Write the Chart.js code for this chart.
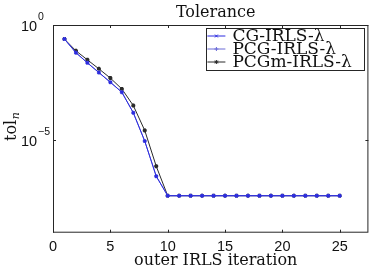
<!DOCTYPE html>
<html>
<head>
<meta charset="utf-8">
<script src="https://cdn.jsdelivr.net/npm/chart.js@4/dist/chart.umd.min.js"></script>
<style>
  html, body { margin: 0; padding: 0; background: #fff; }
  canvas { display: block; }
</style>
</head>
<body>
<canvas id="tolChart" width="374" height="267"></canvas>
<script>
// outer IRLS iteration number
const iterations = [1, 2, 3, 4, 5, 6, 7, 8, 9, 10, 11, 12, 13, 14, 15, 16, 17, 18, 19, 20, 21, 22, 23, 24, 25];
// tolerance per iteration
const cgTol = [0.245, 0.0631, 0.0229, 0.0087, 0.00331, 0.00123, 1.58e-4, 9.3e-6, 2.8e-7, 4.0e-8,
  4.0e-8, 4.0e-8, 4.0e-8, 4.0e-8, 4.0e-8, 4.0e-8, 4.0e-8, 4.0e-8, 4.0e-8, 4.0e-8, 4.0e-8, 4.0e-8, 4.0e-8, 4.0e-8, 4.0e-8];
const pcgTol = [0.245, 0.0631, 0.0229, 0.0087, 0.00331, 0.00123, 1.58e-4, 9.3e-6, 2.8e-7, 4.0e-8,
  4.0e-8, 4.0e-8, 4.0e-8, 4.0e-8, 4.0e-8, 4.0e-8, 4.0e-8, 4.0e-8, 4.0e-8, 4.0e-8, 4.0e-8, 4.0e-8, 4.0e-8, 4.0e-8, 4.0e-8];
const pcgmTol = [0.245, 0.0759, 0.0309, 0.0126, 0.00501, 0.0017, 3.24e-4, 2.69e-5, 7.6e-7, 4.0e-8,
  4.0e-8, 4.0e-8, 4.0e-8, 4.0e-8, 4.0e-8, 4.0e-8, 4.0e-8, 4.0e-8, 4.0e-8, 4.0e-8, 4.0e-8, 4.0e-8, 4.0e-8, 4.0e-8, 4.0e-8];
const seriesNames = ['CG-IRLS-λ', 'PCG-IRLS-λ', 'PCGm-IRLS-λ'];
const xTicks = [0, 5, 10, 15, 20, 25];
const yTicks = [1e-5, 1];
const titleText = 'Tolerance';
const xTitle = 'outer IRLS iteration';

const colors = ['#2b2be0', '#6a6ad6', '#2a2a2a'];
const markers = ['crossRot', 'cross', 'star'];
const axisColor = '#262626';
const textColor = '#111';
const sans = (px) => `${px}px Liberation Sans, Arial, sans-serif`;
const serif = (px, it) => `${it ? 'italic ' : ''}${px}px DejaVu Serif, serif`;

const mkSet = (i, data) => ({
  label: seriesNames[i],
  data: data.map((v, k) => ({ x: iterations[k], y: v })),
  borderColor: colors[i],
  backgroundColor: colors[i],
  borderWidth: 1,
  pointStyle: markers[i],
  pointRadius: 2,
  pointBorderWidth: 1.6,
  tension: 0
});

// matlab look: box, inward ticks, labels, legend
const matlabAxes = {
  id: 'matlabAxes',
  afterDraw(chart) {
    const { ctx, chartArea: a, scales: { x, y } } = chart;
    const cx = (a.left + a.right) / 2;
    ctx.save();
    ctx.strokeStyle = axisColor;
    ctx.lineWidth = 1;
    ctx.strokeRect(a.left + 0.5, a.top + 0.5, a.right - a.left - 1, a.bottom - a.top - 1);

    ctx.beginPath();
    xTicks.forEach(v => {
      const px = Math.round(x.getPixelForValue(v)) + 0.5;
      ctx.moveTo(px, a.bottom); ctx.lineTo(px, a.bottom - 3);
      ctx.moveTo(px, a.top); ctx.lineTo(px, a.top + 3);
    });
    yTicks.forEach(v => {
      const py = Math.round(y.getPixelForValue(v)) + 0.5;
      ctx.moveTo(a.left, py); ctx.lineTo(a.left + 3, py);
      ctx.moveTo(a.right, py); ctx.lineTo(a.right - 3, py);
    });
    ctx.stroke();

    ctx.fillStyle = textColor;
    ctx.textBaseline = 'alphabetic';
    ctx.textAlign = 'center';

    // 10^k labels
    yTicks.forEach(v => {
      const py = Math.round(y.getPixelForValue(v));
      const lx = a.left - 32;
      ctx.font = sans(14.5);
      const w = ctx.measureText('10').width;
      ctx.fillText('10', Math.round(lx + w / 2), py + 6);
      const ex = String(Math.round(Math.log10(v))).replace('-', '\u2212');
      ctx.font = sans(10.5);
      const we = ctx.measureText(ex).width;
      ctx.fillText(ex, Math.round(lx + w + 1 + we / 2), py - 5);
    });

    // title
    ctx.font = serif(16);
    ctx.fillText(titleText, cx + 5, a.top - 8.5);

    // x tick labels + x title
    ctx.font = sans(14.5);
    xTicks.forEach(v => ctx.fillText(String(v), x.getPixelForValue(v), a.bottom + 18));
    ctx.font = serif(16);
    ctx.fillText(xTitle, cx + 5, a.bottom + 32);

    // y title tol_n
    ctx.textAlign = 'left';
    ctx.save();
    ctx.translate(a.left - 37, (a.top + a.bottom) / 2 - 2);
    ctx.rotate(-Math.PI / 2);
    ctx.font = serif(16);
    const w1 = ctx.measureText('tol').width;
    ctx.font = serif(11, true);
    const w2 = ctx.measureText('n').width;
    ctx.font = serif(16);
    ctx.fillText('tol', -(w1 + w2) / 2, 0);
    ctx.font = serif(11, true);
    ctx.fillText('n', -(w1 + w2) / 2 + w1 + 0.5, 2.5);
    ctx.restore();

    // legend
    const bw = 158, bh = 42;
    const bx = a.right - 4 - bw, by = a.top + 3;
    ctx.fillStyle = '#fff';
    ctx.fillRect(bx, by, bw, bh);
    ctx.strokeStyle = axisColor;
    ctx.strokeRect(Math.round(bx) + 0.5, Math.round(by) + 0.5, bw, bh);
    seriesNames.forEach((name, i) => {
      const ry = by + 8 + i * 13;
      ctx.strokeStyle = colors[i];
      ctx.fillStyle = colors[i];
      ctx.beginPath();
      ctx.moveTo(bx + 1, ry); ctx.lineTo(bx + 19, ry);
      ctx.stroke();
      Chart.helpers.drawPoint(ctx, { pointStyle: markers[i], radius: 2, borderWidth: 1.5, rotation: 0 }, bx + 10, ry);
      ctx.fillStyle = textColor;
      ctx.font = serif(17);
      ctx.textBaseline = 'middle';
      ctx.fillText(name, bx + 26, ry + 1);
    });
    ctx.restore();
  }
};

const draw = () => new Chart(document.getElementById('tolChart'), {
  type: 'line',
  data: {
    datasets: [mkSet(0, cgTol), mkSet(1, pcgTol), mkSet(2, pcgmTol)]
  },
  options: {
    responsive: false,
    animation: false,
    layout: { padding: { top: 25, right: 5, left: 0, bottom: 0 } },
    plugins: {
      legend: { display: false },
      tooltip: { enabled: false }
    },
    scales: {
      x: {
        type: 'linear',
        min: 0,
        max: 27.5,
        grid: { display: false, drawTicks: false },
        border: { display: false },
        afterBuildTicks: s => { s.ticks = xTicks.map(v => ({ value: v })); },
        ticks: { display: false },
        afterFit: s => { s.height = 34.3; }
      },
      y: {
        type: 'logarithmic',
        min: 1e-9,
        max: 1,
        grid: { display: false, drawTicks: false },
        border: { display: false },
        afterBuildTicks: s => { s.ticks = yTicks.map(v => ({ value: v })); },
        ticks: { display: false },
        afterFit: s => { s.width = 53; }
      }
    }
  },
  plugins: [matlabAxes]
});

Promise.all([
  document.fonts.load(sans(14)),
  document.fonts.load(serif(16)),
  document.fonts.load(serif(11, true))
]).then(draw, draw);
</script>
</body>
</html>
